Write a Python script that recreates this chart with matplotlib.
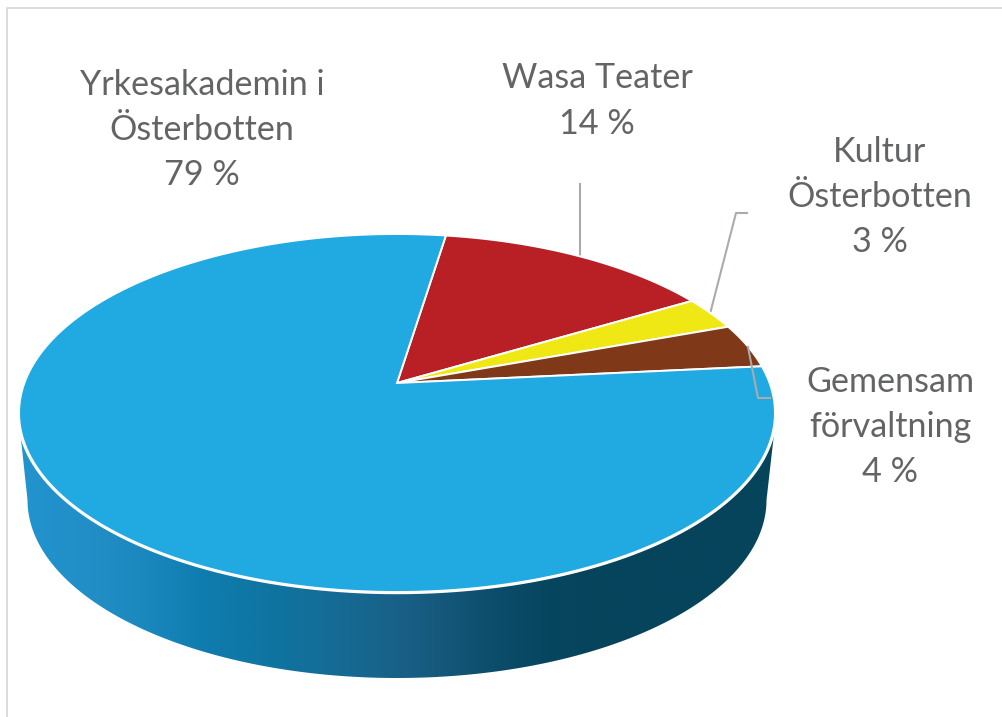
import numpy as np
import matplotlib
matplotlib.use("Agg")
import matplotlib.pyplot as plt
from matplotlib.colors import LinearSegmentedColormap
from matplotlib.patches import Polygon

# --- data (clockwise from the first slice) ---
names = ["Wasa Teater", "Kultur\nÖsterbotten", "Gemensam\nförvaltning", "Yrkesakademin i\nÖsterbotten"]
percent = [14, 3, 4, 79]
colors = ["#B92025", "#F0E814", "#7F3918", "#21A9E1"]

plt.rcParams["font.family"] = ["Lato", "DejaVu Sans"]
TXT = "#636466"
LEAD = "#A9ABAE"

fig = plt.figure(figsize=(10.02, 7.17), dpi=100, facecolor="white")
ax = fig.add_axes([0, 0, 1, 1])
W, H = 1002, 717

# perspective projection of the unit disc into pixel space
CX, CY, A, B, C, K = 397.0, 413.0, 372.6, 179.0, 30.0, 0.1676
START = 8.8


def project(u, v):
    d = 1 + K * v
    return CX + A * u / d, CY - (B * v + C) / d


# side wall ---------------------------------------------------------------
BCY, BA, BB = 500.0, 369.5, 178.0
t = np.radians(np.linspace(0, 180, 361))
bx = CX - BA * np.cos(t)
by = BCY + BB * np.sin(t)
side_pts = np.column_stack([
    np.r_[19.5, bx, 775.0],
    np.r_[425.0, by, 425.0],
])
stops = [(19, (34, 148, 207)), (100, (33, 141, 197)), (150, (25, 135, 188)),
         (200, (15, 125, 175)), (270, (15, 116, 161)), (320, (20, 110, 152)),
         (400, (25, 96, 136)), (450, (20, 86, 120)), (500, (11, 76, 106)),
         (550, (7, 70, 95)), (600, (6, 68, 92)), (776, (6, 68, 92))]
x0, x1 = stops[0][0], stops[-1][0]
cmap = LinearSegmentedColormap.from_list(
    "side", [((s - x0) / (x1 - x0), tuple(c / 255 for c in col)) for s, col in stops], N=512)
clip = Polygon(side_pts, closed=True, transform=ax.transData, fc="none", ec="none")
ax.add_patch(clip)
im = ax.imshow(np.linspace(0, 1, 512)[None, :], cmap=cmap, aspect="auto",
               extent=(x0, x1, 690, 400), interpolation="bilinear", zorder=1)
im.set_clip_path(clip)

# top slices ----------------------------------------------------------------
edges = np.r_[0, np.cumsum(percent)] / np.sum(percent) * 360 + START
# white rim under the slices, on the side wall
rim = np.radians(np.linspace(0, 360, 721))
rx, ry = project(np.sin(rim), np.cos(rim))
ax.plot(rx, ry, color="white", lw=3.2, zorder=2)
for a0, a1, col in zip(edges[:-1], edges[1:], colors):
    th = np.radians(np.linspace(a0, a1, max(int(a1 - a0) * 2, 12)))
    px, py = project(np.sin(th), np.cos(th))
    ox, oy = project(0.0, 0.0)
    ax.add_patch(Polygon(np.column_stack([np.r_[ox, px], np.r_[oy, py]]), closed=True,
                         fc=col, ec="white", lw=1.4, joinstyle="miter", zorder=3))

# leader lines ---------------------------------------------------------------
ax.plot([580, 580], [184, 257], color=LEAD, lw=1.5, zorder=2.5)
ax.plot([747, 736, 710], [213, 213, 314], color=LEAD, lw=1.5, zorder=2.5)
ax.plot([748, 758, 770], [347, 398, 398], color=LEAD, lw=1.5, zorder=4)

# labels ---------------------------------------------------------------------
label_pos = [(597, 101), (880, 197), (890, 427), (202, 130)]
for name, p, (lx, ly) in zip(names, percent, label_pos):
    ax.text(lx, ly, f"{name}\n{p} %", ha="center", va="center", fontsize=24.6,
            color=TXT, linespacing=1.5, zorder=5)

# frame -----------------------------------------------------------------------
ax.plot([7, 7, W], [H, 8, 8], color="#DADCDC", lw=1.4, zorder=0)

ax.set_xlim(0, W)
ax.set_ylim(H, 0)
ax.axis("off")
fig.savefig("out.png", dpi=100, facecolor="white")
